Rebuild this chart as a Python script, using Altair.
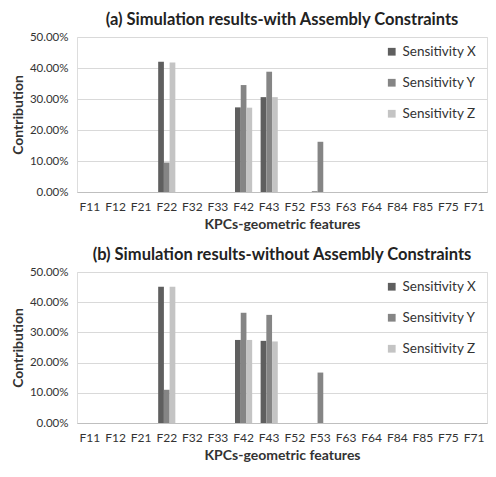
import altair as alt
import pandas as pd

features = ["F11", "F12", "F21", "F22", "F32", "F33", "F42", "F43",
            "F52", "F53", "F63", "F64", "F84", "F85", "F75", "F71"]
series = ["Sensitivity X", "Sensitivity Y", "Sensitivity Z"]

# Panel (a): with assembly constraints (fractions)
a_x = [0, 0, 0, 0.420, 0, 0, 0.273, 0.306, 0, 0.002, 0, 0, 0, 0, 0, 0]
a_y = [0, 0, 0, 0.095, 0, 0, 0.345, 0.388, 0, 0.162, 0, 0, 0, 0, 0, 0]
a_z = [0, 0, 0, 0.418, 0, 0, 0.272, 0.306, 0, 0, 0, 0, 0, 0, 0, 0]

# Panel (b): without assembly constraints
b_x = [0, 0, 0, 0.451, 0, 0, 0.275, 0.272, 0, 0, 0, 0, 0, 0, 0, 0]
b_y = [0, 0, 0, 0.110, 0, 0, 0.365, 0.358, 0, 0.167, 0, 0, 0, 0, 0, 0]
b_z = [0, 0, 0, 0.451, 0, 0, 0.275, 0.270, 0, 0, 0, 0, 0, 0, 0, 0]

titles = ["(a) Simulation results-with Assembly Constraints",
          "(b) Simulation results-without Assembly Constraints"]

colors = ["#5f5f5f", "#858585", "#c4c4c4"]
FONT = "Lato"


def make_df(xs, ys, zs):
    rows = []
    for vals, s in zip([xs, ys, zs], series):
        for f, v in zip(features, vals):
            rows.append({"feature": f, "series": s, "value": v})
    return pd.DataFrame(rows)


def panel(df, title, h):
    return alt.Chart(df).mark_bar().encode(
        x=alt.X("feature:N", sort=features,
                scale=alt.Scale(domain=features, paddingInner=0.33, paddingOuter=0.17),
                axis=alt.Axis(title="KPCs-geometric features", labelAngle=0,
                              ticks=False, domainColor="#bfbfbf", labelPadding=9,
                              labelFontSize=12, labelColor="#333333",
                              titleFontSize=14, titleFont=FONT, labelFont=FONT,
                              titleColor="#333333", titlePadding=5)),
        xOffset=alt.XOffset("series:N", sort=series),
        y=alt.Y("value:Q",
                scale=alt.Scale(domain=[0, 0.5]),
                axis=alt.Axis(title="Contribution", format=".2%",
                              values=[0, 0.1, 0.2, 0.3, 0.4, 0.5],
                              domain=False, ticks=False, gridColor="#d9d9d9",
                              labelFontSize=11.5, labelColor="#333333",
                              labelFont=FONT, titleFont=FONT, titleFontSize=14,
                              titleColor="#333333", labelPadding=9, titlePadding=4)),
        color=alt.Color("series:N", sort=series,
                        scale=alt.Scale(domain=series, range=colors),
                        legend=alt.Legend(title=None, orient="none",
                                          legendX=308, legendY=8,
                                          symbolType="square", symbolSize=60,
                                          symbolStrokeWidth=0,
                                          labelFontSize=13.5, labelFont=FONT,
                                          labelColor="#333333", rowPadding=16)),
    ).properties(
        width=410, height=h,
        title=alt.TitleParams(title, fontSize=16.5, font=FONT, fontWeight="bold",
                              color="#222222", anchor="middle", offset=3),
    )


ca = panel(make_df(a_x, a_y, a_z), titles[0], 155)
cb = panel(make_df(b_x, b_y, b_z), titles[1], 151)

chart = alt.vconcat(ca, cb, spacing=14).resolve_legend(
    color="independent").properties(
    padding={"left": 2, "top": 3, "right": 0, "bottom": 0}
).configure_view(stroke=None).configure(background="white")

chart.save("out.html", embed_options={"renderer": "svg", "actions": False})
